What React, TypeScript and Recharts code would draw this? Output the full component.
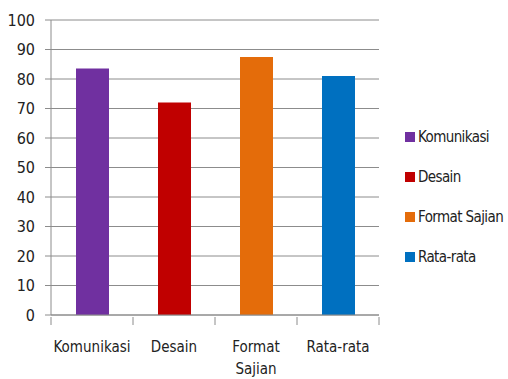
import { BarChart, Bar, Cell, XAxis, YAxis, CartesianGrid, Legend, Text } from "recharts";

const categories = ["Komunikasi", "Desain", "Format Sajian", "Rata-rata"];
const scores = [83.6, 72.0, 87.5, 81.0];
const barColors = ["#7030A0", "#C00000", "#E46C0A", "#0070C0"];
const yTicks = [0, 10, 20, 30, 40, 50, 60, 70, 80, 90, 100];

const data = categories.map((name, i) => ({ name, value: scores[i] }));

const FONT = "'DejaVu Sans Condensed', 'Liberation Sans Narrow', sans-serif";
const FONT_SIZE = 15;
const CHART_W = 508;
const CHART_H = 379;
const MARGIN = { top: 20, right: 11, bottom: 0, left: 0 };
const Y_AXIS_W = 51;
const LEGEND_W = 118;
const plotWidth = CHART_W - MARGIN.left - MARGIN.right - Y_AXIS_W - LEGEND_W;
const band = plotWidth / categories.length;

function CategoryTick(props: any) {
  const { x, y, payload, index } = props;
  const isLast = index === categories.length - 1;
  return (
    <g>
      <line x1={x - band / 2} x2={x - band / 2} y1={y - 8} y2={y} stroke="#8c8c8c" />
      {isLast && <line x1={x + band / 2} x2={x + band / 2} y1={y - 8} y2={y} stroke="#8c8c8c" />}
      <Text
        x={x}
        y={y + 16}
        width={76}
        textAnchor="middle"
        verticalAnchor="start"
        lineHeight={22}
        fill="#222"
        style={{ fontFamily: FONT, fontSize: FONT_SIZE }}
      >
        {payload.value}
      </Text>
    </g>
  );
}

function LegendBox() {
  return (
    <div style={{ width: LEGEND_W, fontFamily: FONT, fontSize: FONT_SIZE, color: "#222" }}>
      {categories.map((c, i) => (
        <div
          key={c}
          style={{ display: "flex", alignItems: "center", height: 40, paddingLeft: 26, whiteSpace: "nowrap" }}
        >
          <span style={{ width: 10, height: 10, flexShrink: 0, background: barColors[i], marginRight: 3 }} />
          <span style={{ letterSpacing: -0.6 }}>{c}</span>
        </div>
      ))}
    </div>
  );
}

export default function App() {
  return (
    <div style={{ position: "absolute", left: 0, top: 0, background: "#fff" }}>
      <BarChart width={CHART_W} height={CHART_H} data={data} margin={MARGIN}>
        <CartesianGrid vertical={false} stroke="#8c8c8c" />
        <XAxis
          dataKey="name"
          height={64}
          interval={0}
          axisLine={{ stroke: "#8c8c8c" }}
          tickLine={false}
          tickSize={8}
          tick={<CategoryTick />}
        />
        <YAxis
          width={Y_AXIS_W}
          domain={[0, 100]}
          ticks={yTicks}
          interval={0}
          axisLine={{ stroke: "#8c8c8c" }}
          tickLine={{ stroke: "#8c8c8c" }}
          tickSize={6}
          tickMargin={10}
          tick={{ fill: "#222", fontSize: FONT_SIZE + 1, fontFamily: FONT }}
        />
        <Legend
          layout="vertical"
          align="right"
          verticalAlign="middle"
          content={() => <LegendBox />}
          wrapperStyle={{ top: 117 }}
        />
        <Bar dataKey="value" barSize={33} isAnimationActive={false}>
          {data.map((d, i) => (
            <Cell key={d.name} fill={barColors[i]} />
          ))}
        </Bar>
      </BarChart>
    </div>
  );
}
